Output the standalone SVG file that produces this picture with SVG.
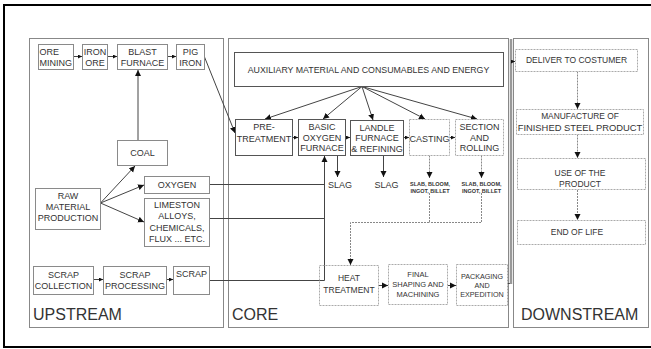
<svg xmlns="http://www.w3.org/2000/svg" width="651" height="349" viewBox="0 0 651 349">
<style>
text{font-family:"Liberation Sans",Arial,sans-serif;fill:#333;font-size:9px}
.m{text-anchor:middle}
.box{fill:#fff;stroke:#8a8a8a;stroke-width:1}
.dk{fill:#fff;stroke:#555;stroke-width:1}
.ds{fill:#fff;stroke:#aaa;stroke-width:1;stroke-dasharray:2,1}
.pan{fill:none;stroke:#888;stroke-width:1}
.ln{fill:none;stroke:#444;stroke-width:1}
.dl{fill:none;stroke:#888;stroke-width:1;stroke-dasharray:2,1}
.lab{font-size:16px}
.sm{font-size:5.5px;font-weight:bold}
</style>
<defs>
<marker id="s" viewBox="0 0 10 10" refX="10" refY="5" markerWidth="4" markerHeight="4" markerUnits="userSpaceOnUse" orient="auto"><path d="M0,0L10,5L0,10z" fill="#111"/></marker>
<marker id="b" viewBox="0 0 10 10" refX="10" refY="5" markerWidth="6" markerHeight="7" markerUnits="userSpaceOnUse" orient="auto"><path d="M0,0L10,5L0,10z" fill="#111"/></marker>
</defs>
<rect x="0" y="0" width="651" height="349" fill="#fff"/>
<rect x="4" y="5" width="660" height="342" fill="none" stroke="#000" stroke-width="2"/>
<g id="panels">
<rect class="pan" x="29.5" y="38.5" width="194" height="289"/>
<rect class="pan" x="228.5" y="38.5" width="280" height="289"/>
<rect class="pan" x="513.5" y="38.5" width="135" height="289"/>
<text class="lab" x="33" y="320">UPSTREAM</text>
<text class="lab" x="232" y="320">CORE</text>
<text class="lab" x="521" y="320">DOWNSTREAM</text>
</g>
<g id="connectors">
<path class="ln" d="M73.5,56.5H82" marker-end="url(#s)"/>
<path class="ln" d="M107.5,56.5H117" marker-end="url(#s)"/>
<path class="ln" d="M167.5,56.5H176" marker-end="url(#s)"/>
<path class="ln" d="M204.5,57L235,133" marker-end="url(#b)"/>
<path class="ln" d="M138,140V70" marker-end="url(#b)"/>
<path class="ln" d="M100.5,203L135,166" marker-end="url(#b)"/>
<path class="ln" d="M100.5,203L144,185" marker-end="url(#b)"/>
<path class="ln" d="M100.5,203L144,222" marker-end="url(#b)"/>
<path class="ln" d="M93.5,279.5H103" marker-end="url(#s)"/>
<path class="ln" d="M166.5,279.5H173" marker-end="url(#s)"/>
<path class="ln" d="M209.5,184.5H324.5M209.5,218.5H324.5M209.5,280.5H324.5"/>
<path class="ln" d="M324.5,280.5V156" marker-end="url(#b)"/>
<path class="ln" d="M362,86.5L265,119" marker-end="url(#b)"/>
<path class="ln" d="M362,86.5L323,119" marker-end="url(#b)"/>
<path class="ln" d="M362,86.5L373,120" marker-end="url(#b)"/>
<path class="ln" d="M362,86.5L425,119" marker-end="url(#b)"/>
<path class="ln" d="M362,86.5L477,119" marker-end="url(#b)"/>
<path class="ln" d="M292.5,137.5H298" marker-end="url(#s)"/>
<path class="ln" d="M345.5,137.5H350" marker-end="url(#s)"/>
<path class="ln" d="M403.5,137.5H409" marker-end="url(#s)"/>
<path class="ln" d="M449.5,137.5H455" marker-end="url(#s)"/>
<path class="ln" d="M337.5,156V177" marker-end="url(#b)"/>
<path class="ln" d="M383.5,156V177" marker-end="url(#b)"/>
<path class="dl" d="M429.5,155.5V178" marker-end="url(#b)"/>
<path class="dl" d="M481.5,155.5V178" marker-end="url(#b)"/>
<path class="dl" d="M429.5,193V222.5H350.5V265" marker-end="url(#b)"/>
<path class="dl" d="M481.5,193V222.5H429.5"/>
<path class="ln" d="M378.5,285.5H388" marker-end="url(#b)"/>
<path class="ln" d="M447.5,285.5H456" marker-end="url(#b)"/>
<path class="ln" d="M507.5,283.5H511"/>
<path fill="none" stroke="#999" stroke-width="2.5" d="M511,284V39"/>
<path class="ln" d="M511,61.5H515" marker-end="url(#s)"/>
<path class="dl" d="M577.5,71.5V109" marker-end="url(#b)"/>
<path class="dl" d="M577.5,134.5V158" marker-end="url(#b)"/>
<path class="dl" d="M577.5,190V220" marker-end="url(#b)"/>
</g>
<g id="ore-mining"><rect class="box" x="38.5" y="44.5" width="35" height="25"/><text x="39.5" y="55">ORE</text><text x="39.5" y="66">MINING</text></g>
<g id="iron-ore"><rect class="box" x="82.5" y="44.5" width="25" height="25"/><text class="m" x="95" y="55">IRON</text><text class="m" x="95" y="66">ORE</text></g>
<g id="blast-furnace"><rect class="box" x="117.5" y="44.5" width="50" height="25"/><text class="m" x="142.5" y="55">BLAST</text><text class="m" x="142.5" y="66">FURNACE</text></g>
<g id="pig-iron"><rect class="box" x="176.5" y="44.5" width="28" height="25"/><text class="m" x="190.5" y="55">PIG</text><text class="m" x="190.5" y="66">IRON</text></g>
<g id="coal"><rect class="box" x="117.5" y="140.5" width="50" height="25"/><text class="m" x="142.5" y="156">COAL</text></g>
<g id="raw-material"><rect class="box" x="35.5" y="188.5" width="65" height="41"/><text class="m" x="68" y="198.5">RAW</text><text class="m" x="68" y="209.5">MATERIAL</text><text class="m" x="68" y="221">PRODUCTION</text></g>
<g id="oxygen"><rect class="box" x="144.5" y="176.5" width="65" height="17"/><text class="m" x="177" y="188">OXYGEN</text></g>
<g id="limeston"><rect class="box" x="144.5" y="198.5" width="65" height="48"/><text class="m" x="177" y="207.5">LIMESTON</text><text class="m" x="177" y="219">ALLOYS,</text><text class="m" x="177" y="230.5">CHEMICALS,</text><text class="m" x="177" y="242">FLUX ... ETC.</text></g>
<g id="scrap-collection"><rect class="box" x="33.5" y="266.5" width="60" height="28"/><text class="m" x="63.5" y="277.5">SCRAP</text><text class="m" x="63.5" y="288.5">COLLECTION</text></g>
<g id="scrap-processing"><rect class="box" x="103.5" y="266.5" width="63" height="28"/><text class="m" x="135" y="277.5">SCRAP</text><text class="m" x="135" y="288.5">PROCESSING</text></g>
<g id="scrap"><rect class="box" x="173.5" y="266.5" width="36" height="28"/><text class="m" x="191.5" y="277">SCRAP</text></g>
<g id="auxiliary"><rect class="dk" x="234.5" y="52.5" width="269" height="34" stroke="#777"/><text class="m" x="368.5" y="72.5" style="font-size:8.8px">AUXILIARY MATERIAL AND CONSUMABLES AND ENERGY</text></g>
<g id="pre-treatment"><rect class="dk" x="235.5" y="119.5" width="57" height="36"/><text class="m" x="264" y="130">PRE-</text><text class="m" x="264" y="142">TREATMENT</text></g>
<g id="bof"><rect class="dk" x="298.5" y="119.5" width="47" height="36"/><text class="m" x="322" y="130">BASIC</text><text class="m" x="322" y="140.5">OXYGEN</text><text class="m" x="322" y="151">FURNACE</text></g>
<g id="landle"><rect class="dk" x="350.5" y="120.5" width="53" height="35"/><text class="m" x="377" y="130.5">LANDLE</text><text class="m" x="377" y="141">FURNACE</text><text class="m" x="377" y="151.5">&amp; REFINING</text></g>
<g id="casting"><rect class="ds" x="409.5" y="119.5" width="40" height="36"/><text class="m" x="429.5" y="141.5">CASTING</text></g>
<g id="section-rolling"><rect class="ds" x="455.5" y="119.5" width="48" height="36"/><text class="m" x="479.5" y="130">SECTION</text><text class="m" x="479.5" y="140.5">AND</text><text class="m" x="479.5" y="151">ROLLING</text></g>
<g id="slag1"><text class="m" x="340" y="188">SLAG</text></g>
<g id="slag2"><text class="m" x="386.5" y="188">SLAG</text></g>
<g id="slab1"><text class="m sm" x="430" y="186">SLAB, BLOOM,</text><text class="m sm" x="430" y="193">INGOT, BILLET</text></g>
<g id="slab2"><text class="m sm" x="481.5" y="186">SLAB, BLOOM,</text><text class="m sm" x="481.5" y="193">INGOT, BILLET</text></g>
<g id="heat-treatment"><rect class="ds" x="319.5" y="265.5" width="59" height="40" style="fill:none"/><text class="m" x="349" y="280.5" style="font-size:8.5px">HEAT</text><text class="m" x="349" y="292.5" style="font-size:8.5px">TREATMENT</text></g>
<g id="final-shaping"><rect class="ds" x="388.5" y="264.5" width="59" height="40"/><text class="m" x="418" y="277" style="font-size:7.5px">FINAL</text><text class="m" x="418" y="287" style="font-size:7.5px">SHAPING AND</text><text class="m" x="418" y="296.5" style="font-size:7.5px">MACHINING</text></g>
<g id="packaging"><rect class="ds" x="456.5" y="264.5" width="51" height="41"/><text class="m" x="482" y="279" style="font-size:7.2px">PACKAGING</text><text class="m" x="482" y="288" style="font-size:7.2px">AND</text><text class="m" x="482" y="297" style="font-size:7.2px">EXPEDITION</text></g>
<g id="deliver"><rect class="ds" x="515.5" y="49.5" width="122" height="22"/><text class="m" x="576.5" y="63" style="font-size:8.5px">DELIVER TO COSTUMER</text></g>
<g id="manufacture"><rect class="ds" x="516.5" y="109.5" width="127" height="25"/><text class="m" x="580" y="118.5" style="font-size:8.4px">MANUFACTURE OF</text><text class="m" x="580" y="130.5" style="font-size:9.4px">FINISHED STEEL PRODUCT</text></g>
<g id="use"><rect class="ds" x="517.5" y="158.5" width="128" height="31"/><text class="m" x="580" y="175.5" style="font-size:8.5px">USE OF THE</text><text class="m" x="580" y="186.5" style="font-size:8.5px">PRODUCT</text></g>
<g id="end-of-life"><rect class="ds" x="517.5" y="220.5" width="128" height="24"/><text class="m" x="577" y="234.5" style="font-size:8.5px">END OF LIFE</text></g>
</svg>
